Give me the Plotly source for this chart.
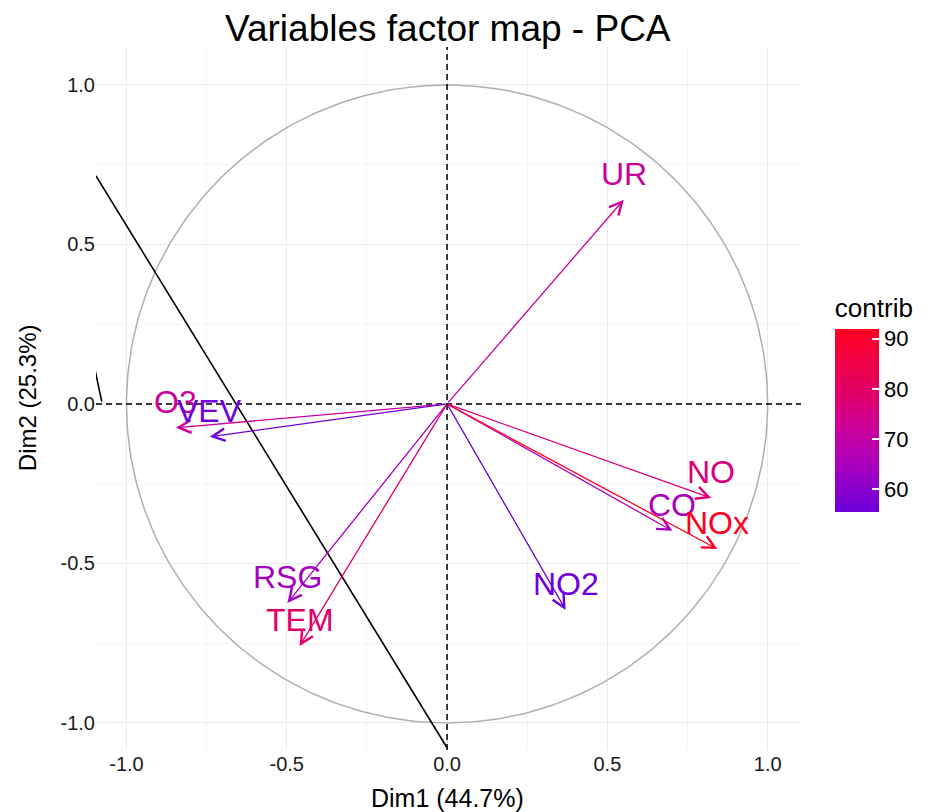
import numpy as np
import plotly.graph_objects as go
from plotly.colors import sample_colorscale

# ---- data ----
variables = ["UR", "O3", "VEV", "RSG", "TEM", "NO2", "NO", "CO", "NOx"]
dim1 = [0.551, -0.846, -0.740, -0.498, -0.460, 0.370, 0.824, 0.703, 0.843]
dim2 = [0.640, -0.075, -0.103, -0.624, -0.759, -0.646, -0.295, -0.398, -0.455]
contrib = [71.4, 72.1, 55.8, 63.7, 78.8, 55.4, 76.6, 65.2, 91.8]

x_ticks = [-1.0, -0.5, 0.0, 0.5, 1.0]
x_ticklabels = ["-1.0", "-0.5", "0.0", "0.5", "1.0"]
y_ticks = [-1.0, -0.5, 0.0, 0.5, 1.0]
y_ticklabels = ["-1.0", "-0.5", "0.0", "0.5", "1.0"]
cb_ticks = [60, 70, 80, 90]

# stray black line segments seen in the picture
line1_x = [-1.095, 0.0]
line1_y = [0.715, -1.078]
line2_x = [-1.098, -1.077]
line2_y = [0.107, 0.007]

title = "Variables factor map - PCA"
xlab = "Dim1 (44.7%)"
ylab = "Dim2 (25.3%)"

# ---- styling ----
FONT = "Liberation Sans, Arial, sans-serif"
colorscale = [[0.0, "#6E00DC"], [0.25, "#A800C0"], [0.45, "#CB009C"],
              [0.62, "#DE0070"], [1.0, "#FF0020"]]
cmin, cmax = min(contrib), max(contrib)
norm = [(c - cmin) / (cmax - cmin) for c in contrib]
cols = sample_colorscale(colorscale, norm)

XR = [-1.095, 1.104]
YR = [-1.085, 1.119]

fig = go.Figure()

# correlation circle
t = np.linspace(0, 2 * np.pi, 361)
fig.add_trace(go.Scatter(x=np.cos(t), y=np.sin(t), mode="lines",
                         line=dict(color="#AFAFAF", width=1.5),
                         hoverinfo="skip", showlegend=False))

# black line segments
fig.add_trace(go.Scatter(x=line1_x, y=line1_y, mode="lines",
                         line=dict(color="black", width=1.6),
                         showlegend=False, hoverinfo="skip"))
fig.add_trace(go.Scatter(x=line2_x, y=line2_y, mode="lines",
                         line=dict(color="black", width=1.6),
                         showlegend=False, hoverinfo="skip"))

# dashed axes
fig.add_hline(y=0, line=dict(color="black", width=1.5, dash="6px,4px"))
fig.add_vline(x=0, line=dict(color="black", width=1.5, dash="6px,4px"))

# colorbar carrier
fig.add_trace(go.Scatter(
    x=dim1, y=dim2, mode="markers",
    marker=dict(size=1, opacity=0, color=contrib, colorscale=colorscale,
                cmin=cmin, cmax=cmax, showscale=True,
                colorbar=dict(
                    title=dict(text="contrib", side="top",
                               font=dict(family=FONT, size=26, color="black")),
                    x=1.048, xanchor="left", xpad=0,
                    y=0.4929, yanchor="middle", ypad=0,
                    len=218, lenmode="pixels", thickness=44,
                    outlinewidth=0, tickvals=cb_ticks,
                    ticktext=[str(v) for v in cb_ticks],
                    ticks="inside", ticklen=7, tickcolor="white", tickwidth=1.5,
                    tickfont=dict(family=FONT, size=22, color="black"))),
    showlegend=False, hoverinfo="skip"))

# arrows and labels
for name, xv, yv, c in zip(variables, dim1, dim2, cols):
    fig.add_annotation(x=xv, y=yv, ax=0, ay=0, xref="x", yref="y",
                       axref="x", ayref="y", text="", showarrow=True,
                       arrowhead=5, arrowsize=1.9, arrowwidth=1.3,
                       arrowcolor=c, standoff=0)
    fig.add_annotation(x=xv, y=yv, xref="x", yref="y", text=name,
                       showarrow=False, xanchor="center", yanchor="bottom",
                       yshift=6, font=dict(family=FONT, size=32, color=c))

# axis titles
fig.add_annotation(text=xlab, xref="paper", yref="paper", x=0.498, y=-0.068,
                   xanchor="center", yanchor="middle", showarrow=False,
                   font=dict(family=FONT, size=25, color="black"))
fig.add_annotation(text=ylab, xref="paper", yref="paper", x=-0.0976, y=0.5007,
                   xanchor="center", yanchor="middle", showarrow=False,
                   textangle=-90, font=dict(family=FONT, size=24, color="black"))

fig.update_layout(
    width=928, height=812,
    margin=dict(l=96, r=125, t=47, b=62),
    paper_bgcolor="white", plot_bgcolor="white",
    title=dict(text=title, x=0.499, xref="paper", y=1 - 28 / 812,
               yref="container", xanchor="center", yanchor="middle",
               font=dict(family=FONT, size=37, color="black")),
    xaxis=dict(range=XR, tickvals=x_ticks, ticktext=x_ticklabels,
               showgrid=True, gridcolor="#EBEBEB", gridwidth=1.2,
               zeroline=False, showline=False, ticks="",
               tickfont=dict(family=FONT, size=20, color="#1A1A1A"),
               minor=dict(tickvals=[-0.75, -0.25, 0.25, 0.75], showgrid=True,
                          gridcolor="#F5F5F5", gridwidth=0.8)),
    yaxis=dict(range=YR, tickvals=y_ticks, ticktext=y_ticklabels,
               showgrid=True, gridcolor="#EBEBEB", gridwidth=1.2,
               zeroline=False, showline=False, ticks="",
               tickfont=dict(family=FONT, size=20, color="#1A1A1A"),
               minor=dict(tickvals=[-0.75, -0.25, 0.25, 0.75], showgrid=True,
                          gridcolor="#F5F5F5", gridwidth=0.8)),
)

fig.write_html("out.html", config={"displayModeBar": False})

# remove the default page margin so the figure sits at the window's corner
with open("out.html", "r", encoding="utf-8") as f:
    html = f.read()
html = html.replace("<head>", "<head><style>html,body{margin:0;padding:0;overflow:hidden;}</style>", 1)
with open("out.html", "w", encoding="utf-8") as f:
    f.write(html)
